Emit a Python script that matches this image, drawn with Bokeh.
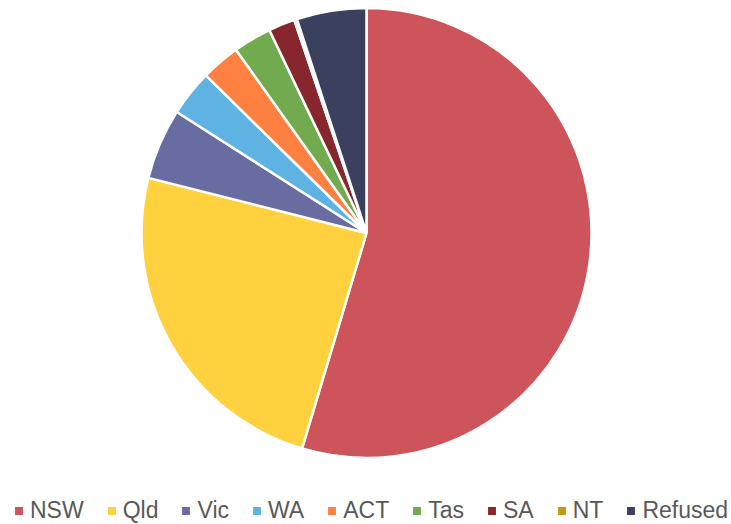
import math
import numpy as np
from bokeh.plotting import figure
from bokeh.models import ColumnDataSource, Range1d, Legend, LegendItem
from bokeh.embed import file_html
from bokeh.resources import INLINE

# Data (percent shares)
states = ["NSW", "Qld", "Vic", "WA", "ACT", "Tas", "SA", "NT", "Refused"]
shares = [54.6, 24.3, 5.1, 3.3, 2.8, 2.75, 1.9, 0.2, 5.0]
colors = ["#CD545B", "#FFD13F", "#686CA0", "#5FB3E3", "#FF8142", "#72AA50",
          "#88262E", "#C29A0C", "#3C405F"]

W, H = 731, 524
CX, CY, R = 366, 291.5, 225

vals = np.array(shares, dtype=float)
frac = vals / vals.sum()
cum_end = np.cumsum(frac)
cum_start = cum_end - frac
start_angle = math.pi / 2 - 2 * math.pi * cum_end
end_angle = math.pi / 2 - 2 * math.pi * cum_start

src = ColumnDataSource(dict(state=states, share=shares, color=colors,
                            start=start_angle, end=end_angle))

p = figure(width=W, height=H, output_backend="svg", toolbar_location=None,
           x_range=Range1d(0, W), y_range=Range1d(0, H), min_border=0)
p.axis.visible = False
p.grid.visible = False
p.outline_line_color = None
p.background_fill_color = "white"
p.border_fill_color = "white"

r = p.wedge(x=CX, y=CY, radius=R, start_angle="start", end_angle="end",
            fill_color="color", line_color="white", line_width=2.5, source=src)

items = [LegendItem(label=s, renderers=[r], index=i) for i, s in enumerate(states)]
legend = Legend(items=items, orientation="horizontal", location=(12, 0),
                glyph_width=13, glyph_height=13, label_standoff=5, spacing=21,
                padding=0, margin=0, border_line_color=None,
                background_fill_alpha=0,
                label_text_font="Liberation Sans", label_text_font_size="23px",
                label_text_color="#595959", label_height=28)
p.add_layout(legend)

open("out.html", "w").write(file_html(p, INLINE))
